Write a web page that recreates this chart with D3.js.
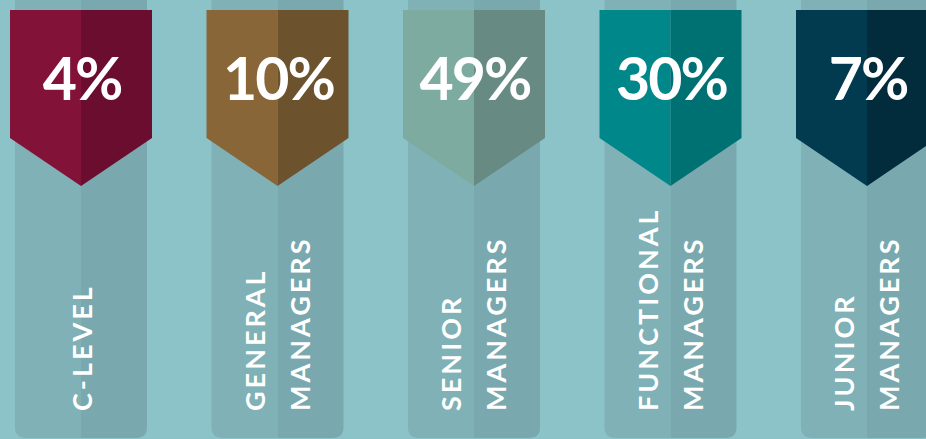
<!DOCTYPE html>
<html>
<head>
<meta charset="utf-8">
<script src="https://cdn.jsdelivr.net/npm/d3@7"></script>
<style>
  html, body { margin: 0; padding: 0; background: #8cc3c9; overflow: hidden; }
  svg { display: block; }
</style>
</head>
<body>
<div id="chart"></div>
<script>
const categories = ["C-LEVEL", "GENERAL MANAGERS", "SENIOR MANAGERS", "FUNCTIONAL MANAGERS", "JUNIOR MANAGERS"];
const labelLines = [["C-LEVEL"], ["GENERAL", "MANAGERS"], ["SENIOR", "MANAGERS"], ["FUNCTIONAL", "MANAGERS"], ["JUNIOR", "MANAGERS"]];
const values = [4, 10, 49, 30, 7];
const lightColors = ["#821238", "#886637", "#7eaba0", "#00878a", "#023a4f"];
const darkColors = ["#6a0d2e", "#6d522e", "#678b83", "#007173", "#022b3b"];

const width = 926;
const height = 439;
const step = 196.5;
const pad = (step - 142) / step;

const x = d3.scaleBand()
  .domain(categories)
  .range([10, 10 + step * (categories.length - pad)])
  .paddingInner(pad)
  .paddingOuter(0)
  .align(0);

const svg = d3.select("#chart")
  .append("svg")
  .attr("width", width)
  .attr("height", height)
  .attr("viewBox", `0 0 ${width} ${height}`);

svg.append("rect")
  .attr("width", width)
  .attr("height", height)
  .attr("fill", "#8cc3c9");

const bannerTop = 10;
const bannerBody = 138;
const bannerTip = 186;
const colInset = 5;
const colBottom = 438;
const r = 11;

let cards = svg.selectAll("g.card")
  .data(categories)
  .join("g")
  .attr("class", "card")
  .attr("transform", d => `translate(${x(d)},0)`);

const bw = x.bandwidth();
const mid = bw / 2;

// column behind the banner, rounded at the bottom
function colPath(x0, x1, roundLeft, roundRight) {
  let p = `M${x0},0 L${x1},0 `;
  if (roundRight) p += `L${x1},${colBottom - r} Q${x1},${colBottom} ${x1 - r},${colBottom} `;
  else p += `L${x1},${colBottom} `;
  if (roundLeft) p += `L${x0 + r},${colBottom} Q${x0},${colBottom} ${x0},${colBottom - r} `;
  else p += `L${x0},${colBottom} `;
  return p + "Z";
}

cards.append("path")
  .attr("d", colPath(colInset, mid, true, false))
  .attr("fill", "#80b1b6");
cards.append("path")
  .attr("d", colPath(mid, bw - colInset, false, true))
  .attr("fill", "#79a9ae");

// banner halves
cards.append("path")
  .attr("d", `M0,${bannerTop} L${mid},${bannerTop} L${mid},${bannerTip} L0,${bannerBody} Z`)
  .attr("fill", (d, i) => lightColors[i]);
cards.append("path")
  .attr("d", `M${mid},${bannerTop} L${bw},${bannerTop} L${bw},${bannerBody} L${mid},${bannerTip} Z`)
  .attr("fill", (d, i) => darkColors[i]);

cards.append("text")
  .text((d, i) => values[i] + "%")
  .attr("x", mid + 1)
  .attr("y", 100)
  .attr("text-anchor", "middle")
  .attr("font-family", "Lato, 'Open Sans', sans-serif")
  .attr("font-weight", "bold")
  .attr("font-size", 59)
  .attr("letter-spacing", -2)
  .attr("fill", "#fff");

cards.each(function (d, i) {
  const lines = labelLines[i];
  const offs = lines.length === 1 ? [1] : [-23, 22];
  d3.select(this).selectAll("text.lbl")
    .data(lines)
    .join("text")
    .attr("class", "lbl")
    .text(t => t)
    .attr("transform", (t, j) => `translate(${mid + offs[j] + 10},411) rotate(-90)`)
    .attr("text-anchor", "start")
    .attr("font-family", "Lato, 'Open Sans', sans-serif")
    .attr("font-weight", "bold")
    .attr("font-size", 27)
    .attr("letter-spacing", 3)
    .attr("fill", "#fff");
});
</script>
</body>
</html>
